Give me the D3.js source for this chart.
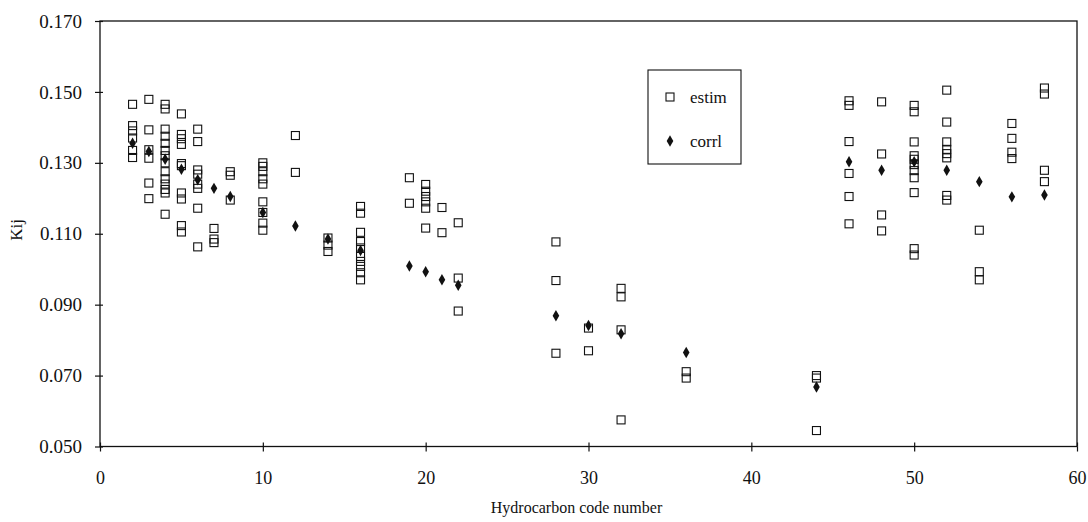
<!DOCTYPE html>
<html><head><meta charset="utf-8">
<script src="https://cdnjs.cloudflare.com/ajax/libs/d3/7.8.5/d3.min.js"></script>
<style>body{margin:0;background:#fff}svg{display:block}text{font-family:"Liberation Serif","Times New Roman",serif;fill:#111}</style>
</head><body><svg id="c" width="1088" height="522"></svg>
<script>
const codes = [2,3,4,5,6,7,8,10,12,14,16,19,20,21,22,28,30,32,36,44,46,48,50,52,54,56,58];
const estim = [
 [0.1465,0.1405,0.1390,0.1370,0.1335,0.1315],
 [0.1479,0.1393,0.1337,0.1313,0.1243,0.1199],
 [0.1465,0.1452,0.1395,0.1375,0.1355,0.1335,0.1320,0.1300,0.1275,0.1255,0.1240,0.1225,0.1215,0.1155],
 [0.1438,0.1380,0.1368,0.1352,0.1298,0.1292,0.1215,0.1198,0.1123,0.1105],
 [0.1395,0.1360,0.1280,0.1268,0.1240,0.1228,0.1172,0.1063],
 [0.1115,0.1085,0.1075],
 [0.1275,0.1265,0.1195],
 [0.1300,0.1290,0.1275,0.1255,0.1240,0.1190,0.1160,0.1130,0.1110],
 [0.1377,0.1273],
 [0.1088,0.1068,0.1050],
 [0.1177,0.1158,0.1104,0.1078,0.1060,0.1036,0.1022,0.1008,0.0990,0.0970],
 [0.1258,0.1186],
 [0.1239,0.1220,0.1205,0.1190,0.1172,0.1116],
 [0.1174,0.1103],
 [0.1131,0.0975,0.0882],
 [0.1077,0.0968,0.0763],
 [0.0834,0.0770],
 [0.0946,0.0922,0.0829,0.0575],
 [0.0711,0.0693],
 [0.0700,0.0693,0.0545],
 [0.1475,0.1462,0.1360,0.1270,0.1205,0.1128],
 [0.1472,0.1325,0.1153,0.1108],
 [0.1462,0.1444,0.1359,0.1320,0.1310,0.1295,0.1278,0.1258,0.1216,0.1058,0.1040],
 [0.1505,0.1415,0.1359,0.1338,0.1326,0.1314,0.1208,0.1195],
 [0.1110,0.0993,0.0970],
 [0.1411,0.1369,0.1330,0.1312],
 [0.1511,0.1494,0.1279,0.1247]
];
const corrl = [0.1355,0.1332,0.1310,0.1282,0.1252,0.1228,0.1205,0.1160,0.1122,0.1085,0.1053,0.1009,0.0993,0.0970,0.0955,0.0869,0.0841,0.0818,0.0765,0.0668,0.1303,0.1279,0.1303,0.1279,0.1247,0.1204,0.1209];
const xTicks = [0,10,20,30,40,50,60];
const yTicks = [0.050,0.070,0.090,0.110,0.130,0.150,0.170];
const seriesNames = ["estim","corrl"];
const xTitle = "Hydrocarbon code number";
const yTitle = "Kij";

const svg = d3.select("#c");
const L=100, R=1077, T=21, B=446.5;
const x = d3.scaleLinear().domain([0,60]).range([L,R]);
const y = d3.scaleLinear().domain([0.05,0.17]).range([B,T]);

// frame
svg.append("rect").attr("x",L).attr("y",T).attr("width",R-L).attr("height",B-T)
  .attr("fill","none").attr("stroke","#111").attr("stroke-width",1.3);

// axes
const ya = svg.append("g").attr("transform",`translate(${L},0)`)
  .call(d3.axisLeft(y).tickValues(yTicks).tickFormat(d3.format(".3f")).tickSize(5).tickPadding(13));
ya.selectAll(".tick line").clone().attr("x2",3);
const xa = svg.append("g").attr("transform",`translate(0,${B})`)
  .call(d3.axisBottom(x).tickValues(xTicks).tickFormat(d3.format("d")).tickSize(5).tickPadding(20));
xa.selectAll(".tick line").clone().attr("y2",-4);
[ya,xa].forEach(a=>{a.select(".domain").remove();
  a.selectAll("line").attr("stroke","#111").attr("stroke-width",1.2);
  a.selectAll("text").attr("fill","#111").style("font-family","'Liberation Serif',serif");});
ya.selectAll("text").style("font-size","19px");
xa.selectAll("text").style("font-size","18px");

svg.append("text").attr("x",(L+R)/2 - 12).attr("y",513).attr("text-anchor","middle")
  .style("font-size","16px").text(xTitle);
svg.append("text").attr("transform",`translate(22,230) rotate(-90)`).attr("text-anchor","middle")
  .style("font-size","17px").text(yTitle);

// points
const pts = [];
codes.forEach((c,i)=>estim[i].forEach(v=>pts.push({c,v})));
svg.append("g").selectAll("rect").data(pts).join("rect")
  .attr("x",d=>x(d.c)-4).attr("y",d=>y(d.v)-4).attr("width",8).attr("height",8)
  .attr("fill","none").attr("stroke","#111").attr("stroke-width",1.1);
const dia = d3.symbol().type(d3.symbolDiamond).size(38);
svg.append("g").selectAll("path").data(codes.map((c,i)=>({c,v:corrl[i]}))).join("path")
  .attr("d",dia).attr("transform",d=>`translate(${x(d.c)},${y(d.v)})`).attr("fill","#111");

// legend
const lg = svg.append("g");
lg.append("rect").attr("x",648).attr("y",70).attr("width",93).attr("height",94)
  .attr("fill","#fff").attr("stroke","#111").attr("stroke-width",1.1);
lg.append("rect").attr("x",666).attr("y",93).attr("width",8).attr("height",8)
  .attr("fill","none").attr("stroke","#111").attr("stroke-width",1.1);
lg.append("path").attr("d",dia).attr("transform","translate(670,141)").attr("fill","#111");
lg.append("text").attr("x",690).attr("y",103).style("font-size","17px").text(seriesNames[0]);
lg.append("text").attr("x",690).attr("y",147).style("font-size","17px").text(seriesNames[1]);
</script></body></html>
